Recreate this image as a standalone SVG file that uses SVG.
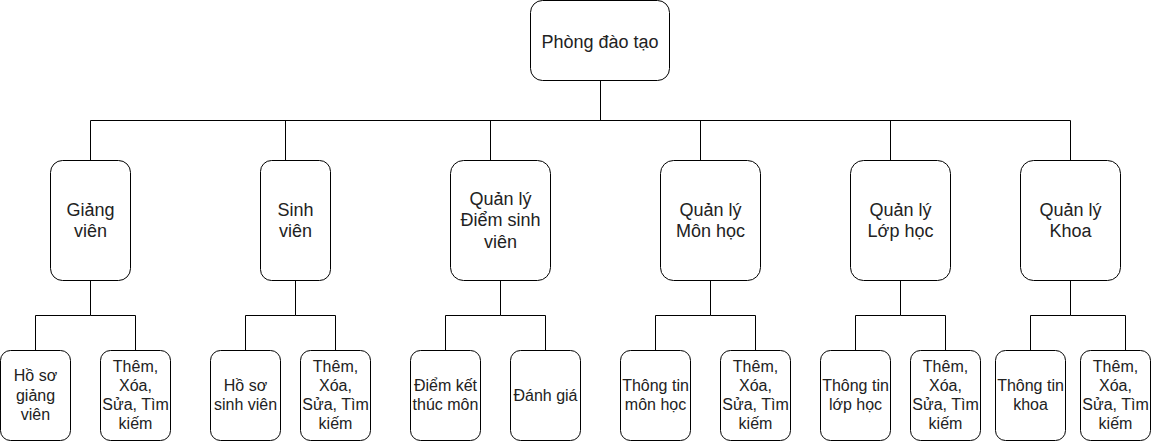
<svg xmlns="http://www.w3.org/2000/svg" width="1151" height="442" viewBox="0 0 1151 442">
<style>
.box{fill:#fff;stroke:#000;stroke-width:1}
.edge{fill:none;stroke:#000;stroke-width:1}
text{font-family:"Liberation Sans",Arial,sans-serif;fill:#222;text-anchor:middle}
.l{font-size:18px}
.s{font-size:16px}
</style>
<rect width="1151" height="442" fill="#fff"/>
<g id="connectors">
<path class="edge" d="M600.5 80.5V120.5H90.5V160.5"/>
<path class="edge" d="M600.5 120.5H285.5V160.5"/>
<path class="edge" d="M600.5 120.5H490.5V160.5"/>
<path class="edge" d="M600.5 120.5H700.5V160.5"/>
<path class="edge" d="M600.5 120.5H890.5V160.5"/>
<path class="edge" d="M600.5 120.5H1070.5V160.5"/>
<path class="edge" d="M90.5 280.5V315.5H35.5V350.5M90.5 315.5H135.5V350.5"/>
<path class="edge" d="M295.5 280.5V315.5H245.5V350.5M295.5 315.5H335.5V350.5"/>
<path class="edge" d="M500.5 280.5V315.5H445.5V350.5M500.5 315.5H545.5V350.5"/>
<path class="edge" d="M710.5 280.5V315.5H655.5V350.5M710.5 315.5H755.5V350.5"/>
<path class="edge" d="M900.5 280.5V315.5H855.5V350.5M900.5 315.5H945.5V350.5"/>
<path class="edge" d="M1070.5 280.5V315.5H1030.5V350.5M1070.5 315.5H1125.5V350.5"/>
</g>
<g id="root"><rect class="box" x="530.5" y="0.5" width="139" height="80" rx="12"/><text class="l" x="600" y="47.5">Phòng đào tạo</text></g>
<g id="giangvien"><rect class="box" x="50.5" y="160.5" width="80" height="120" rx="12"/><text class="l" x="90.5" y="215.5">Giảng</text><text class="l" x="90.5" y="237.1">viên</text></g>
<g id="sinhvien"><rect class="box" x="260.5" y="160.5" width="70" height="120" rx="11"/><text class="l" x="295.5" y="215.5">Sinh</text><text class="l" x="295.5" y="237.1">viên</text></g>
<g id="qldiem"><rect class="box" x="450.5" y="160.5" width="100" height="120" rx="13"/><text class="l" x="500.5" y="204.7">Quản lý</text><text class="l" x="500.5" y="226.3">Điểm sinh</text><text class="l" x="500.5" y="247.9">viên</text></g>
<g id="qlmonhoc"><rect class="box" x="660.5" y="160.5" width="100" height="120" rx="13"/><text class="l" x="710.5" y="215.5">Quản lý</text><text class="l" x="710.5" y="237.1">Môn học</text></g>
<g id="qllophoc"><rect class="box" x="850.5" y="160.5" width="100" height="120" rx="13"/><text class="l" x="900.5" y="215.5">Quản lý</text><text class="l" x="900.5" y="237.1">Lớp học</text></g>
<g id="qlkhoa"><rect class="box" x="1020.5" y="160.5" width="100" height="120" rx="13"/><text class="l" x="1070.5" y="215.5">Quản lý</text><text class="l" x="1070.5" y="237.1">Khoa</text></g>
<g id="hosogv"><rect class="box" x="0.5" y="350.5" width="70" height="90" rx="10"/><text class="s" x="35.5" y="381.4">Hồ sơ</text><text class="s" x="35.5" y="400.6">giảng</text><text class="s" x="35.5" y="419.8">viên</text></g>
<g id="tx-gv"><rect class="box" x="100.5" y="350.5" width="70" height="90" rx="10"/><text class="s" x="135.5" y="371.8">Thêm,</text><text class="s" x="135.5" y="391">Xóa,</text><text class="s" x="135.5" y="410.2">Sửa, Tìm</text><text class="s" x="135.5" y="429.4">kiếm</text></g>
<g id="hososv"><rect class="box" x="210.5" y="350.5" width="70" height="90" rx="10"/><text class="s" x="245.5" y="391">Hồ sơ</text><text class="s" x="245.5" y="410.2">sinh viên</text></g>
<g id="tx-sv"><rect class="box" x="300.5" y="350.5" width="70" height="90" rx="10"/><text class="s" x="335.5" y="371.8">Thêm,</text><text class="s" x="335.5" y="391">Xóa,</text><text class="s" x="335.5" y="410.2">Sửa, Tìm</text><text class="s" x="335.5" y="429.4">kiếm</text></g>
<g id="diemkt"><rect class="box" x="410.5" y="350.5" width="70" height="90" rx="10"/><text class="s" x="445.5" y="391">Điểm kết</text><text class="s" x="445.5" y="410.2">thúc môn</text></g>
<g id="danhgia"><rect class="box" x="510.5" y="350.5" width="70" height="90" rx="10"/><text class="s" x="545.5" y="400.6">Đánh giá</text></g>
<g id="ttmon"><rect class="box" x="620.5" y="350.5" width="70" height="90" rx="10"/><text class="s" x="655.5" y="391">Thông tin</text><text class="s" x="655.5" y="410.2">môn học</text></g>
<g id="tx-mon"><rect class="box" x="720.5" y="350.5" width="70" height="90" rx="10"/><text class="s" x="755.5" y="371.8">Thêm,</text><text class="s" x="755.5" y="391">Xóa,</text><text class="s" x="755.5" y="410.2">Sửa, Tìm</text><text class="s" x="755.5" y="429.4">kiếm</text></g>
<g id="ttlop"><rect class="box" x="820.5" y="350.5" width="70" height="90" rx="10"/><text class="s" x="855.5" y="391">Thông tin</text><text class="s" x="855.5" y="410.2">lớp học</text></g>
<g id="tx-lop"><rect class="box" x="910.5" y="350.5" width="70" height="90" rx="10"/><text class="s" x="945.5" y="371.8">Thêm,</text><text class="s" x="945.5" y="391">Xóa,</text><text class="s" x="945.5" y="410.2">Sửa, Tìm</text><text class="s" x="945.5" y="429.4">kiếm</text></g>
<g id="ttkhoa"><rect class="box" x="995.5" y="350.5" width="70" height="90" rx="10"/><text class="s" x="1030.5" y="391">Thông tin</text><text class="s" x="1030.5" y="410.2">khoa</text></g>
<g id="tx-khoa"><rect class="box" x="1080.5" y="350.5" width="70" height="90" rx="10"/><text class="s" x="1115.5" y="371.8">Thêm,</text><text class="s" x="1115.5" y="391">Xóa,</text><text class="s" x="1115.5" y="410.2">Sửa, Tìm</text><text class="s" x="1115.5" y="429.4">kiếm</text></g>
</svg>
